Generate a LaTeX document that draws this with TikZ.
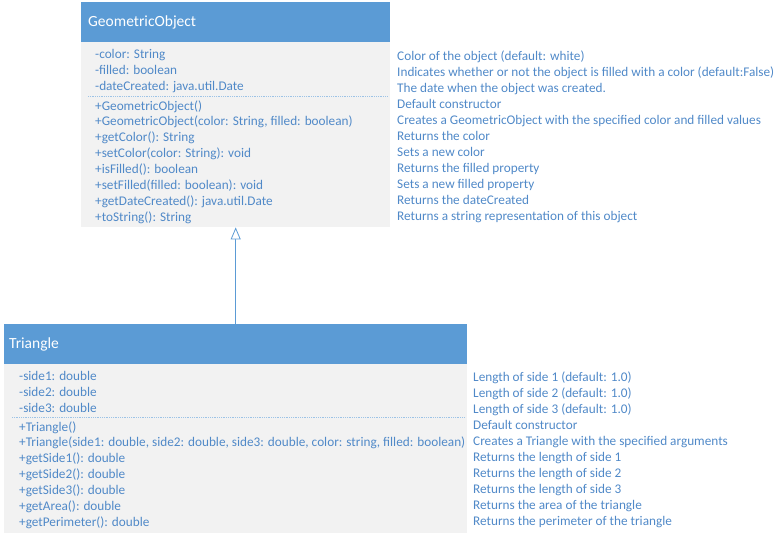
\documentclass[tikz,border=0pt]{standalone}
\usepackage{fontspec}
\setmainfont{Carlito}
\usetikzlibrary{arrows.meta}
\definecolor{hdr}{HTML}{5B9BD5}
\definecolor{bodyg}{HTML}{F2F2F2}
\definecolor{txt}{HTML}{5089C8}
\definecolor{sepc}{HTML}{9DC3E6}
\tikzset{
  hdrbox/.style={fill=hdr, draw=none, anchor=north west, inner sep=0pt},
  bodybox/.style={fill=bodyg, draw=none, anchor=north west, inner sep=0pt},
  hdrtext/.style={text=white, font=\fontsize{15.5}{18}\selectfont, anchor=west, inner sep=0pt},
  linetext/.style={text=txt, font=\fontsize{13.25}{15}\selectfont, anchor=base west, inner sep=0pt},
  sepline/.style={draw=sepc, densely dotted, line width=0.8pt},
  inherit/.style={draw=hdr, line width=0.8pt, -{Triangle[open, length=12pt, width=10pt, fill=white]}}
}
\begin{document}
\begin{tikzpicture}[x=1pt, y=-1pt]
\useasboundingbox (0,0) rectangle (784,538);
% GeometricObject
\node[bodybox, minimum width=309pt, minimum height=185pt] (goB) at (81,42) {};
\node[hdrbox, minimum width=309pt, minimum height=40pt] (goH) at (81,2) {};
\node[hdrtext] (goT) at (88,22) {GeometricObject};
\foreach \t [count=\i] in {-color: String, -filled: boolean, -dateCreated: java.util.Date}
  \node[linetext] (goA\i) at (95, 58+16*\i-16) {\t};
\coordinate (goS1) at (88,96);
\coordinate (goS2) at (388,96);
\draw[sepline] (goS1) -- (goS2);
\foreach \t [count=\i] in {+GeometricObject(), {+GeometricObject(color: String, filled: boolean)}, +getColor(): String, +setColor(color: String): void, +isFilled(): boolean, +setFilled(filled: boolean): void, +getDateCreated(): java.util.Date, +toString(): String}
  \node[linetext] (goM\i) at (95, 110+15.9*\i-15.9) {\t};
\foreach \t [count=\i] in {Color of the object (default: white), Indicates whether or not the object is filled with a color (default:False), The date when the object was created., Default constructor, Creates a GeometricObject with the specified color and filled values, Returns the color, Sets a new color, Returns the filled property, Sets a new filled property, Returns the dateCreated, Returns a string representation of this object}
  \node[linetext] (goD\i) at (397, 60+16*\i-16) {\t};
% Triangle
\node[bodybox, minimum width=463pt, minimum height=169pt] (triB) at (4,364) {};
\node[hdrbox, minimum width=463pt, minimum height=40pt] (triH) at (4,324) {};
\node[hdrtext] (triT) at (9,344) {Triangle};
\foreach \t [count=\i] in {-side1: double, -side2: double, -side3: double}
  \node[linetext] (triA\i) at (19, 380+16*\i-16) {\t};
\coordinate (triS1) at (12,417);
\coordinate (triS2) at (465,417);
\draw[sepline] (triS1) -- (triS2);
\foreach \t [count=\i] in {+Triangle(), {+Triangle(side1: double, side2: double, side3: double, color: string, filled: boolean)}, +getSide1(): double, +getSide2(): double, +getSide3(): double, +getArea(): double, +getPerimeter(): double}
  \node[linetext] (triM\i) at (19, 431+15.9*\i-15.9) {\t};
\foreach \t [count=\i] in {Length of side 1 (default: 1.0), Length of side 2 (default: 1.0), Length of side 3 (default: 1.0), Default constructor, Creates a Triangle with the specified arguments, Returns the length of side 1, Returns the length of side 2, Returns the length of side 3, Returns the area of the triangle, Returns the perimeter of the triangle}
  \node[linetext] (triD\i) at (473, 381+16*\i-16) {\t};
% inheritance
\draw[inherit] (triH.north) -- (goB.south);
\end{tikzpicture}
\end{document}
